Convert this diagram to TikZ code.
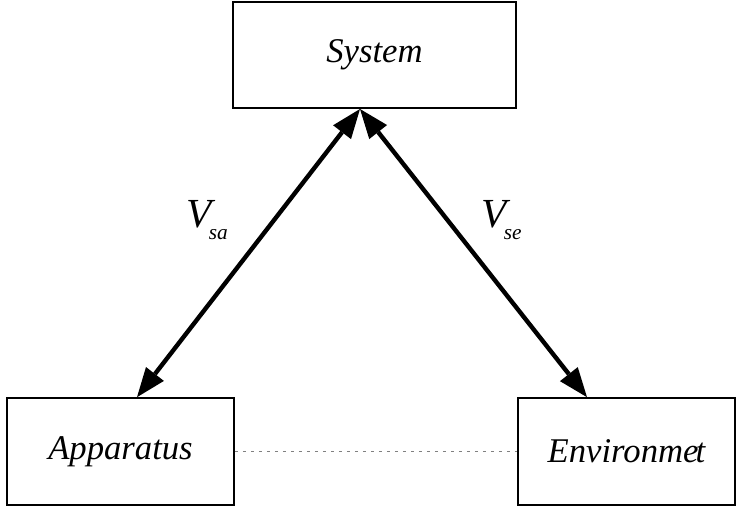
\documentclass[tikz,border=0pt]{standalone}
\usepackage{fontspec}
\setmainfont{Liberation Serif}
\usetikzlibrary{arrows.meta,calc}
\tikzset{
  part/.style ={rectangle, draw=black, line width=1.5pt, inner sep=0pt,
                align=center, font=\fontsize{26}{30}\selectfont\itshape},
  couple/.style={{Triangle[length=22pt,width=17pt,line width=0pt]}-{Triangle[length=22pt,width=17pt,line width=0pt]},
                line width=3.3pt},
  weak/.style ={gray, line width=0.8pt, dash pattern=on 2.5pt off 3.5pt},
  lbl/.style  ={inner sep=0pt, anchor=base west, font=\itshape},
}
\newcommand{\vterm}[1]{{\fontsize{31}{31}\selectfont V}\kern-2pt\raisebox{-9pt}{\fontsize{16}{16}\selectfont #1}}

\begin{document}
\begin{tikzpicture}[x=0.75pt, y=-0.75pt]
    \useasboundingbox (0,0) rectangle (738,508);

    \node[part, minimum width=212pt, minimum height=79.5pt] (sys) at (374.5,55) {System};
    \node[part, minimum width=170pt, minimum height=80pt]   (app) at (120.5,451.5) {Apparatus};
    \node[part, minimum width=163pt, minimum height=80pt]   (env) at (626.5,451.5) {Environme\kern-.08em t};

    \coordinate (top) at ($(sys.south)+(-14.5,0)$);
    \draw[couple] (top) -- ($(app.north)+(16.5,0)$);
    \draw[couple] (top) -- ($(env.north)+(-39.5,0)$);
    \draw[weak] (app) -- (env);

    \node[lbl] (vsa) at (186,227) {\vterm{sa}};
    \node[lbl] (vse) at (481,227) {\vterm{se}};
\end{tikzpicture}
\end{document}
